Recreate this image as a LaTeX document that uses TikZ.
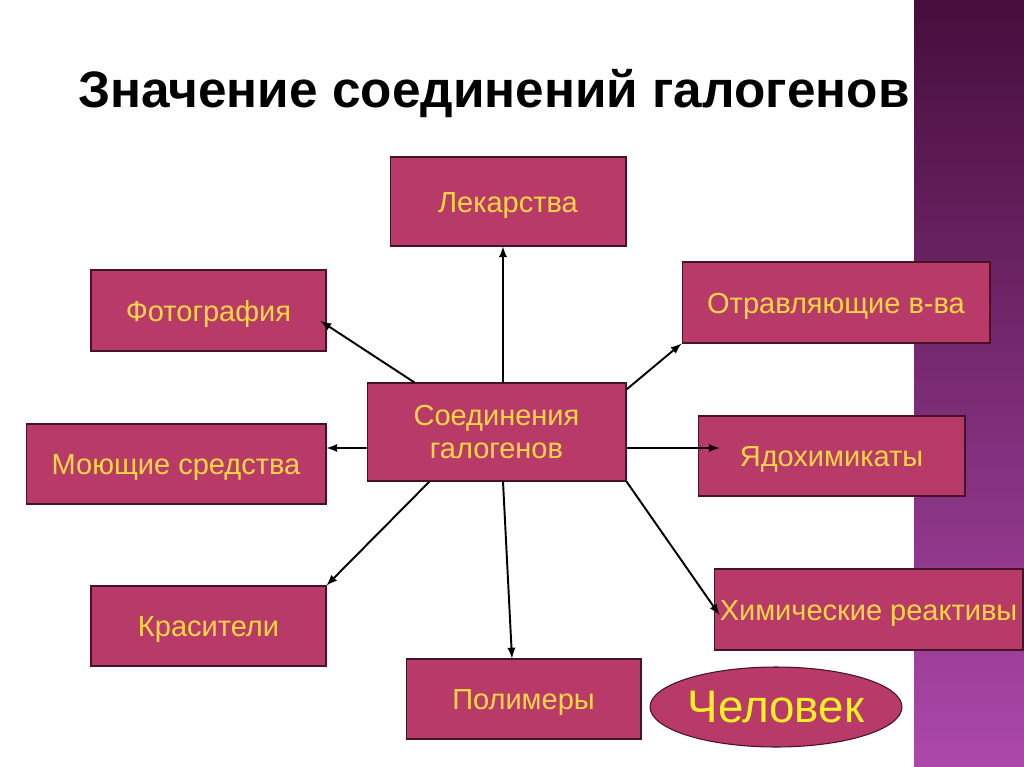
\documentclass[tikz,border=0pt]{standalone}
\usepackage{fontspec}
\setmainfont{Liberation Sans}
\usetikzlibrary{shapes.geometric}

\definecolor{rojocaja}{RGB}{184,58,104}
\definecolor{bordecaja}{RGB}{70,18,38}
\definecolor{letracaja}{RGB}{255,214,70}
\definecolor{letrahombre}{RGB}{255,240,40}
\definecolor{franjaarriba}{RGB}{70,14,60}
\definecolor{franjamedio}{RGB}{118,38,110}
\definecolor{franjaabajo}{RGB}{172,72,170}

\tikzset{
  caja/.style={draw=bordecaja, fill=rojocaja, text=letracaja, line width=0.6pt,
    font=\fontsize{16.5}{20}\selectfont, align=center, inner sep=0pt},
  renglon/.style={text height=0.43cm, text depth=0pt},
  flecha/.style={-latex, line width=1.1pt}
}

\begin{document}
\begin{tikzpicture}[x=0.02cm, y=-0.02cm]
        \useasboundingbox (0,0) rectangle (1024,767);

        % franja de la derecha
        \shade[top color=franjaarriba, middle color=franjamedio, bottom color=franjaabajo] (914,0) rectangle (1024,767);

        % titulo
        \node[anchor=base west, font=\bfseries\fontsize{29.2}{34}\selectfont] (titulo) at (72,108) {Значение соединений галогенов};

        % cajas
        \node[caja, minimum width=5.18cm, minimum height=1.96cm] (src) at (496.5,432) {Соединения\\[-0.05cm]галогенов};
        \node[caja, renglon, minimum width=4.72cm, minimum height=1.78cm] (lek) at (508,201.5) {Лекарства};
        \node[caja, renglon, minimum width=4.70cm, minimum height=1.62cm] (foto) at (208.5,310.5) {Фотография};
        \node[caja, renglon, minimum width=6.16cm, minimum height=1.62cm] (otr) at (836,302.5) {Отравляющие в-ва};
        \node[caja, renglon, minimum width=6.00cm, minimum height=1.60cm] (moy) at (176,464) {Моющие средства};
        \node[caja, renglon, minimum width=5.34cm, minimum height=1.60cm] (yad) at (831.5,456) {Ядохимикаты};
        \node[caja, renglon, minimum width=6.18cm, minimum height=1.62cm] (him) at (868.5,609.5) {Химические реактивы};
        \node[caja, renglon, minimum width=4.70cm, minimum height=1.60cm] (kra) at (208.5,626) {Красители};
        \node[caja, renglon, minimum width=4.70cm, minimum height=1.60cm] (pol) at (523.5,699) {Полимеры};

        % Человек
        \node[caja, ellipse, minimum width=5.04cm, minimum height=1.6cm, text=letrahombre,
          font=\fontsize{26}{30}\selectfont] (hombre) at (776,707) {Человек};

        % flechas
        \draw[flecha] ([xshift=0.13cm]src.north) -- ([xshift=-0.1cm]lek.south);
        \draw[flecha] ([xshift=0.96cm]src.north west) -- ([shift={(-0.12cm,-0.21cm)}]foto.east);
        \draw[flecha] ([yshift=-0.14cm]src.north east) -- (otr.south west);
        \draw[flecha] ([yshift=-0.32cm]src.west) -- ([yshift=0.32cm]moy.east);
        \draw[flecha] ([yshift=-0.32cm]src.east) -- ([shift={(0.44cm,0.16cm)}]yad.west);
        \draw[flecha] ([xshift=1.26cm]src.south west) -- (kra.north east);
        \draw[flecha] ([xshift=0.13cm]src.south) -- ([xshift=-0.23cm]pol.north);
        \draw[flecha] (src.south east) -- ([shift={(0.12cm,-0.11cm)}]him.west);

\end{tikzpicture}
\end{document}
